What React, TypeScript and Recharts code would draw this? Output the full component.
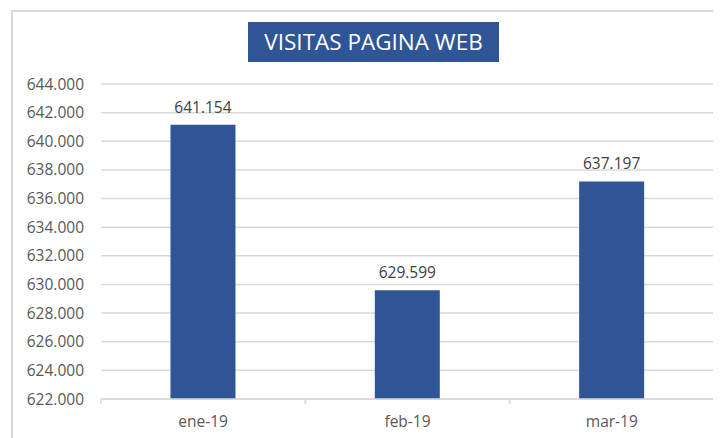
import { BarChart, Bar, XAxis, YAxis, CartesianGrid, LabelList } from 'recharts';

const meses = ['ene-19', 'feb-19', 'mar-19'];
const visitas = [641154, 629599, 637197];
const yTicks = [622000, 624000, 626000, 628000, 630000, 632000, 634000, 636000, 638000, 640000, 642000, 644000];

const data = meses.map((mes, i) => ({ mes, visitas: visitas[i] }));

const FONT = '"Open Sans", sans-serif';
const AZUL = '#2f5597';
const GRIS = '#d9d9d9';

// separador de miles con punto, como en el original
const fmt = (v: number) => String(Math.round(v)).replace(/\B(?=(\d{3})+(?!\d))/g, '.');

function MesTick(props: any) {
  const { x, y, payload } = props;
  const half = payload?.offset ?? 102;
  return (
    <g>
      <line x1={x - half} y1={y} x2={x - half} y2={y + 5} stroke={GRIS} strokeWidth={1.5} />
      <line x1={x + half} y1={y} x2={x + half} y2={y + 5} stroke={GRIS} strokeWidth={1.5} />
      <text x={x} y={y + 28} textAnchor="middle" fill="#595959" fontSize={15.5} fontFamily={FONT}>
        {payload.value}
      </text>
    </g>
  );
}

export default function App() {
  return (
    <div style={{ position: 'relative', width: 713, height: 430, background: '#fff' }}>
      <div
        style={{
          position: 'absolute',
          left: 3,
          top: 2,
          right: -20,
          bottom: -20,
          borderTop: `2px solid ${GRIS}`,
          borderLeft: `2px solid ${GRIS}`,
        }}
      />
      <div
        style={{
          position: 'absolute',
          left: 240,
          top: 14,
          width: 251,
          height: 40,
          background: AZUL,
          color: '#fff',
          fontFamily: FONT,
          fontSize: 22.5,
          lineHeight: '40px',
          textAlign: 'center',
          zIndex: 2,
        }}
      >
        VISITAS PAGINA WEB
      </div>
      <div style={{ position: 'absolute', left: 0, top: 0 }}>
        <BarChart
          width={713}
          height={430}
          data={data}
          margin={{ top: 76, right: 7, left: 0, bottom: 0 }}
          barCategoryGap="34%"
        >
          <CartesianGrid vertical={false} stroke={GRIS} strokeWidth={1.5} />
          <XAxis
            dataKey="mes"
            height={39}
            axisLine={{ stroke: GRIS, strokeWidth: 1.5 }}
            tickLine={false}
            tickSize={0}
            tickMargin={0}
            tick={<MesTick />}
            interval={0}
          />
          <YAxis
            width={93}
            domain={[622000, 644000]}
            ticks={yTicks}
            allowDataOverflow
            axisLine={false}
            tickLine={false}
            tickSize={0}
            tickMargin={17}
            tickFormatter={fmt}
            tick={{ fill: '#595959', fontSize: 15.5, fontFamily: FONT }}
          />
          <Bar dataKey="visitas" fill={AZUL} isAnimationActive={false}>
            <LabelList
              dataKey="visitas"
              position="top"
              offset={12}
              formatter={(v: any) => fmt(Number(v))}
              fill="#404040"
              fontSize={15.5}
              fontFamily={FONT}
            />
          </Bar>
        </BarChart>
      </div>
    </div>
  );
}
